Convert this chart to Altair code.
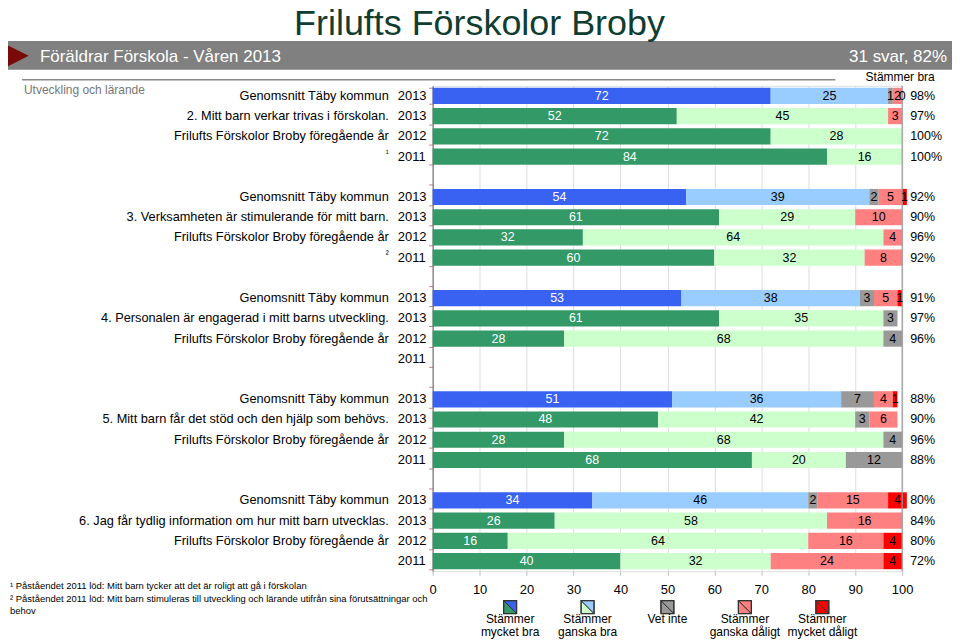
import altair as alt
import pandas as pd

FONT = "Liberation Sans"

# ---------------- data ----------------
title_text = "Frilufts Förskolor Broby"
banner_left = "Föräldrar Förskola - Våren 2013"
banner_right = "31 svar, 82%"
section_text = "Utveckling och lärande"
pct_header = "Stämmer bra"

questions = [
    "2. Mitt barn verkar trivas i förskolan.",
    "3. Verksamheten är stimulerande för mitt barn.",
    "4. Personalen är engagerad i mitt barns utveckling.",
    "5. Mitt barn får det stöd och den hjälp som behövs.",
    "6. Jag får tydlig information om hur mitt barn utvecklas.",
]
taby_label = "Genomsnitt Täby kommun"
prev_label = "Frilufts Förskolor Broby föregående år"
years = ["2013", "2013", "2012", "2011"]
footmarks = ["¹", "²", "", "", ""]

categories = ["Stämmer mycket bra", "Stämmer ganska bra", "Vet inte",
              "Stämmer ganska dåligt", "Stämmer mycket dåligt"]

# values per question: [mycket bra, ganska bra, vet inte, ganska dåligt, mycket dåligt]
taby_2013 = [[72, 25, 1, 2, 0], [54, 39, 2, 5, 1], [53, 38, 3, 5, 1],
             [51, 36, 7, 4, 1], [34, 46, 2, 15, 4]]
school_2013 = [[52, 45, 0, 3, 0], [61, 29, 0, 10, 0], [61, 35, 3, 0, 0],
               [48, 42, 3, 6, 0], [26, 58, 0, 16, 0]]
school_2012 = [[72, 28, 0, 0, 0], [32, 64, 0, 4, 0], [28, 68, 4, 0, 0],
               [28, 68, 4, 0, 0], [16, 64, 0, 16, 4]]
school_2011 = [[84, 16, 0, 0, 0], [60, 32, 0, 8, 0], None,
               [68, 20, 12, 0, 0], [40, 32, 0, 24, 4]]

pct_taby = ["98%", "92%", "91%", "88%", "80%"]
pct_2013 = ["97%", "90%", "97%", "90%", "84%"]
pct_2012 = ["100%", "96%", "96%", "96%", "80%"]
pct_2011 = ["100%", "92%", "", "88%", "72%"]

footnotes = [
    "¹ Påståendet 2011 löd: Mitt barn tycker att det är roligt att gå i förskolan",
    "² Påståendet 2011 löd: Mitt barn stimuleras till utveckling och lärande utifrån sina förutsättningar och",
    "behov",
]

legend_text = ["Stämmer\nmycket bra", "Stämmer\nganska bra", "Vet inte",
               "Stämmer\nganska dåligt", "Stämmer\nmycket dåligt"]
legend_x = [16.5, 33, 50, 66.5, 83]

color_domain = ["t_mb", "t_gb", "s_mb", "s_gb", "vi", "gd", "md"]
color_range = ["#3A62F2", "#99CCFF", "#339966", "#CCFFCC", "#999999", "#FF8080", "#FF0000"]

# ---------------- tables ----------------
series_by_row = [taby_2013, school_2013, school_2012, school_2011]
pct_by_row = [pct_taby, pct_2013, pct_2012, pct_2011]

slots = []
for g in range(5):
    for r in range(4):
        slots.append(f"q{g}r{r}")
    if g < 4:
        slots.append(f"gap{g}")

bar_rows, row_rows, pct_rows = [], [], []
for g in range(5):
    for r in range(4):
        slot = f"q{g}r{r}"
        if r == 0:
            lab = taby_label
        elif r == 1:
            lab = questions[g]
        elif r == 2:
            lab = prev_label
        else:
            lab = ""
        row_rows.append({"slot": slot, "label": lab, "year": years[r],
                         "mark": footmarks[g] if r == 3 else ""})
        pct_rows.append({"slot": slot, "pct": pct_by_row[r][g]})
        vals = series_by_row[r][g]
        if vals is None:
            continue
        for ci, v in enumerate(vals):
            if v == 0 and r != 0:
                continue
            if ci < 2:
                ck = ("t_" if r == 0 else "s_") + ["mb", "gb"][ci]
            else:
                ck = ["vi", "gd", "md"][ci - 2]
            bar_rows.append({"slot": slot, "ci": ci, "value": v, "ckey": ck,
                             "label": str(v), "tcol": "white" if ci == 0 else "black"})

bars_df = pd.DataFrame(bar_rows)
rows_df = pd.DataFrame(row_rows)
pct_df = pd.DataFrame(pct_rows)

leg_df = pd.DataFrame({"lx": legend_x, "txt": legend_text,
                       "c1": ["#339966", "#CCFFCC", "#999999", "#FF8080", "#FF0000"],
                       "c2": ["#3A62F2", "#99CCFF", "#999999", "#FF8080", "#FF0000"]})

# ---------------- scales ----------------
xscale = alt.Scale(domain=[0, 100], nice=False, zero=False)
yscale = alt.Scale(type="band", domain=slots, paddingInner=0.2, paddingOuter=0.1)

base = alt.Chart(bars_df).transform_stack(
    stack="value", groupby=["slot"], as_=["x0", "x1"],
    sort=[alt.SortField("ci", order="ascending")]
).transform_calculate(mid="(datum.x0 + datum.x1) / 2")

bars = base.mark_bar().encode(
    x=alt.X("x0:Q", scale=xscale,
            axis=alt.Axis(values=list(range(0, 101, 10)), grid=True, gridColor="#dddddd",
                          domain=False, tickColor="#bbbbbb", tickSize=4, labelFontSize=13,
                          labelPadding=8, labelColor="black", labelFont=FONT, title=None,
                          labelFlush=False)),
    x2="x1:Q",
    y=alt.Y("slot:N", scale=yscale,
            axis=alt.Axis(labels=False, title=None, ticks=True, tickBand="extent",
                          tickColor="#cc8080", tickSize=4, domainColor="#666666", grid=False)),
    color=alt.Color("ckey:N", scale=alt.Scale(domain=color_domain, range=color_range), legend=None),
)

bar_text = base.mark_text(fontSize=12.5, font=FONT, baseline="middle").encode(
    x=alt.X("mid:Q", scale=xscale),
    y=alt.Y("slot:N", scale=yscale),
    text="label:N",
    color=alt.Color("tcol:N", scale=None),
)

right_rule = alt.Chart(pd.DataFrame({"v": [100]})).mark_rule(color="#999999", strokeWidth=1.2).encode(
    x=alt.X("v:Q", scale=xscale))

row_label = alt.Chart(rows_df).mark_text(align="right", fontSize=12.8, font=FONT, color="black").encode(
    y=alt.Y("slot:N", scale=yscale), x=alt.value(-44), text="label:N")
row_mark = alt.Chart(rows_df).mark_text(align="right", fontSize=9, font=FONT, color="black", dy=-4).encode(
    y=alt.Y("slot:N", scale=yscale), x=alt.value(-44), text="mark:N")
row_year = alt.Chart(rows_df).mark_text(align="left", fontSize=13, font=FONT, color="black").encode(
    y=alt.Y("slot:N", scale=yscale), x=alt.value(-35), text="year:N")
pct_text = alt.Chart(pct_df).mark_text(align="left", fontSize=12.5, font=FONT, color="black").encode(
    y=alt.Y("slot:N", scale=yscale), x=alt.value(479), text="pct:N")

# ---------------- header ----------------
one = pd.DataFrame({"t": [title_text]})
banner = alt.Chart(one).mark_rect(color="#808080").encode(
    x=alt.value(-426), x2=alt.value(526), y=alt.value(-45), y2=alt.value(-16))
tri = alt.Chart(one).mark_point(shape="M-1,-1L1,0L-1,1Z", filled=True, color="#7A0A0A",
                                opacity=1, size=650).encode(x=alt.value(-418), y=alt.value(-30))
title = alt.Chart(one).mark_text(fontSize=36, font=FONT, color="#0F3D30", align="center",
                                 baseline="alphabetic").encode(
    x=alt.value(47), y=alt.value(-51), text="t:N")
ban_l = alt.Chart(pd.DataFrame({"t": [banner_left]})).mark_text(
    fontSize=17, font=FONT, color="white", align="left", baseline="alphabetic").encode(
    x=alt.value(-394), y=alt.value(-24), text="t:N")
ban_r = alt.Chart(pd.DataFrame({"t": [banner_right]})).mark_text(
    fontSize=17, font=FONT, color="white", align="right", baseline="alphabetic").encode(
    x=alt.value(516), y=alt.value(-24), text="t:N")
hline = alt.Chart(one).mark_rule(color="#888888", strokeWidth=1.5).encode(
    x=alt.value(-412), x2=alt.value(404), y=alt.value(-6))
section = alt.Chart(pd.DataFrame({"t": [section_text]})).mark_text(
    fontSize=12, font=FONT, color="#777777", align="left", baseline="middle").encode(
    x=alt.value(-410), y=alt.value(4), text="t:N")
phead = alt.Chart(pd.DataFrame({"t": [pct_header]})).mark_text(
    fontSize=12, font=FONT, color="black", align="center", baseline="middle").encode(
    x=alt.value(469), y=alt.value(-9), text="t:N")

# ---------------- footnotes ----------------
fn_df = pd.DataFrame({"t": footnotes, "yy": [502, 515, 527]})
fn = alt.Chart(fn_df).mark_text(fontSize=9.5, font=FONT, color="black", align="left",
                                baseline="middle").encode(
    x=alt.value(-424), y=alt.Y("yy:Q", scale=None), text="t:N")

# ---------------- legend ----------------
leg_lo = alt.Chart(leg_df).mark_point(shape="M-1,-1L-1,1L1,1Z", filled=True, opacity=1,
                                      stroke="#333333", strokeWidth=1, size=169).encode(
    x=alt.X("lx:Q", scale=xscale), y=alt.value(523), fill=alt.Fill("c1:N", scale=None))
leg_hi = alt.Chart(leg_df).mark_point(shape="M-1,-1L1,-1L1,1Z", filled=True, opacity=1,
                                      stroke="#333333", strokeWidth=1, size=169).encode(
    x=alt.X("lx:Q", scale=xscale), y=alt.value(523), fill=alt.Fill("c2:N", scale=None))
leg_box = alt.Chart(leg_df).mark_point(shape="square", filled=False, opacity=1,
                                       stroke="#333333", strokeWidth=1.2, size=169).encode(
    x=alt.X("lx:Q", scale=xscale), y=alt.value(523))
leg_txt = alt.Chart(leg_df).mark_text(fontSize=12, font=FONT, color="black", align="center",
                                      baseline="top", lineBreak="\n", lineHeight=13).encode(
    x=alt.X("lx:Q", scale=xscale), y=alt.value(530), text="txt:N")

chart = alt.layer(
    banner, tri, title, ban_l, ban_r, hline, section, phead,
    bars, right_rule, bar_text, row_label, row_mark, row_year, pct_text,
    fn, leg_lo, leg_hi, leg_box, leg_txt,
).properties(
    width=471, height=487,
    autosize=alt.AutoSizeParams(type="none"),
    padding={"left": 426, "top": 77, "right": 50, "bottom": 70},
).configure_view(stroke=None).configure(font=FONT)

chart.save("out.html", embed_options={"renderer": "svg", "actions": False})
